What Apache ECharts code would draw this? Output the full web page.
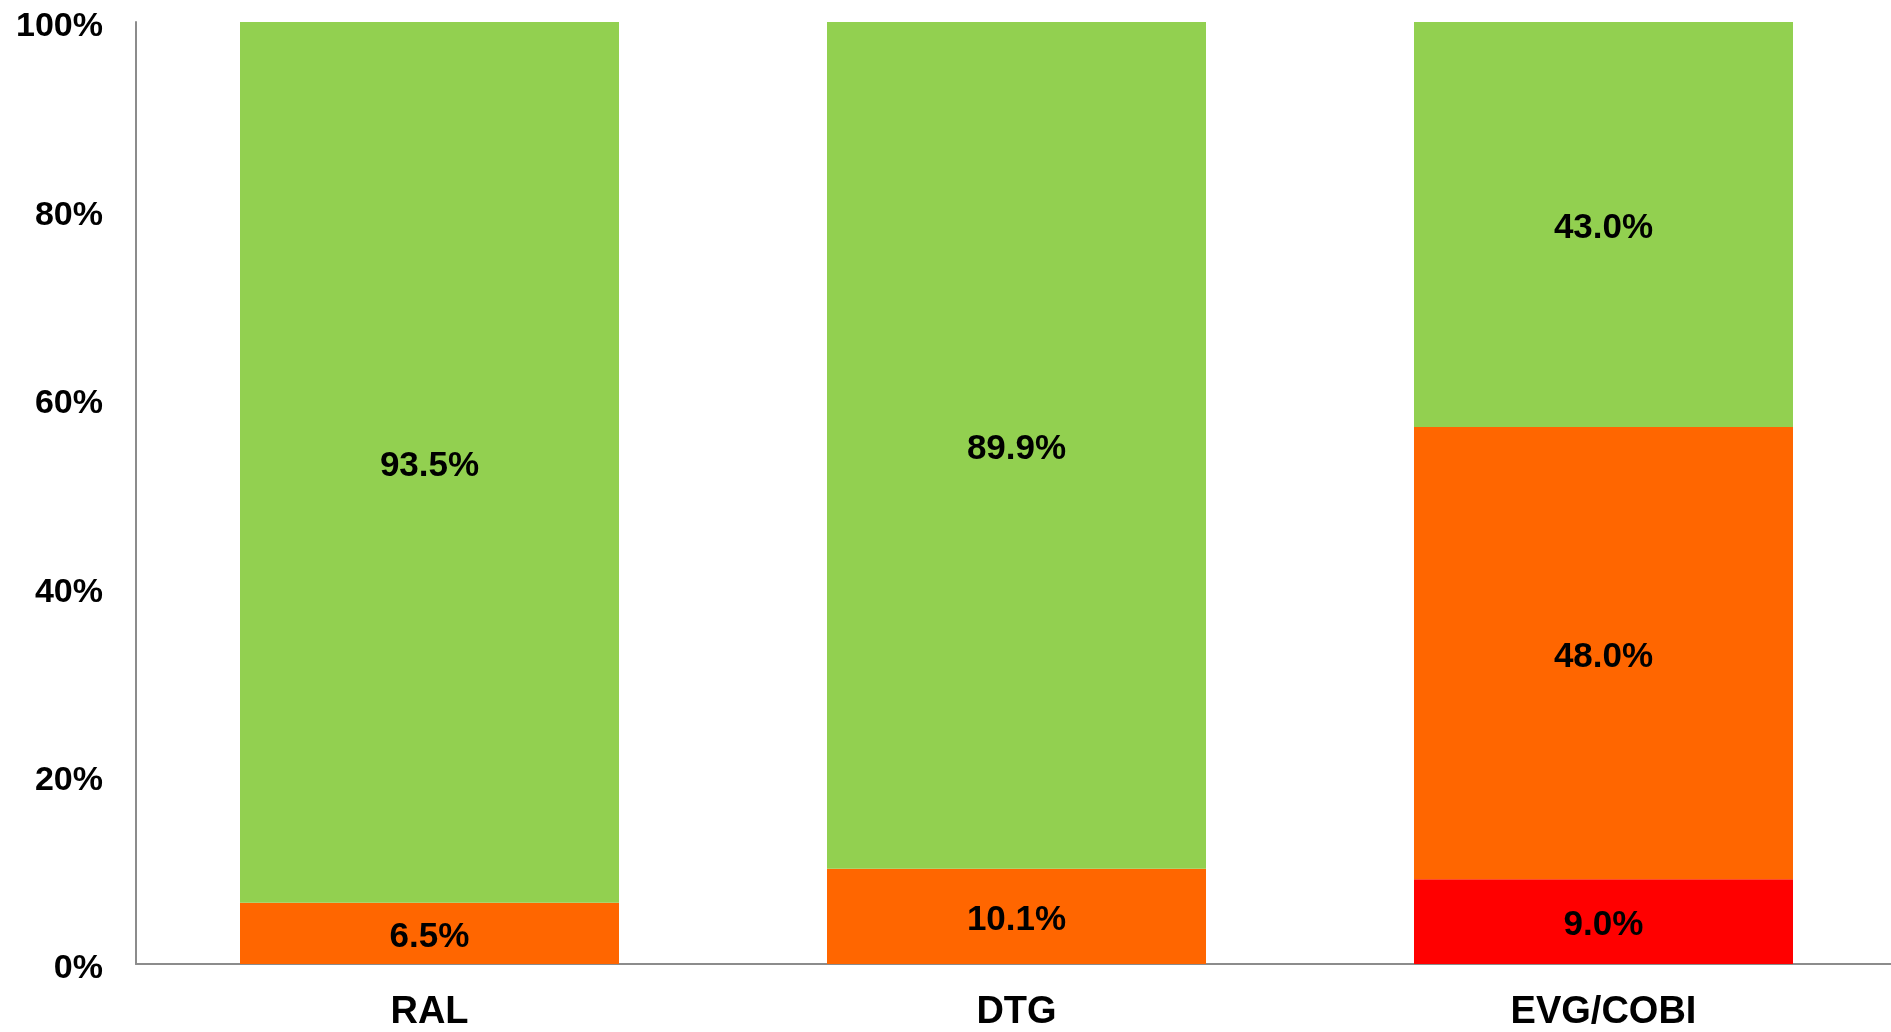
<!DOCTYPE html>
<html>
<head>
<meta charset="utf-8">
<title>Stacked percentage bars</title>
<script src="https://cdn.jsdelivr.net/npm/echarts@6/dist/echarts.min.js"></script>
<style>
  html, body { margin: 0; padding: 0; background: #ffffff; overflow: hidden; }
  #chart { width: 1891px; height: 1032px; }
</style>
</head>
<body>
<div id="chart"></div>
<script>
// Regimens on the x axis
const categories = ['RAL', 'DTG', 'EVG/COBI'];

// Stacked shares per regimen (percent), bottom to top
const redValues = [null, null, 9.0];
const orangeValues = [6.5, 10.1, 48.0];
const greenValues = [93.5, 89.9, 43.0];

// Y axis ticks
const yTicks = [0, 20, 40, 60, 80, 100];

const FONT = '"Liberation Sans", Arial, Helvetica, sans-serif';

const labelStyle = {
  show: true,
  position: 'inside',
  offset: [0, 4],
  color: '#000000',
  fontFamily: FONT,
  fontWeight: 'bold',
  fontSize: 35,
  formatter: p => (p.value == null ? '' : p.value.toFixed(1) + '%')
};

function stackSeries(name, data, color) {
  return {
    name: name,
    type: 'bar',
    stack: 'total',
    data: data,
    barWidth: 379,
    itemStyle: { color: color },
    label: labelStyle,
    emphasis: { disabled: true }
  };
}

const chart = echarts.init(document.getElementById('chart'), null, { renderer: 'canvas' });

chart.setOption({
  animation: false,
  backgroundColor: '#ffffff',
  // plot area runs a little past the right edge of the canvas
  grid: {
    left: 136, right: -6, top: 22, bottom: 68,
    containLabel: false,
    outerBoundsMode: 'none'
  },
  xAxis: {
    type: 'category',
    data: categories,
    axisLine: { show: true, lineStyle: { color: '#8c8c8c', width: 2 } },
    axisTick: { show: false },
    axisLabel: {
      color: '#000000',
      fontFamily: FONT,
      fontWeight: 'bold',
      fontSize: 38,
      margin: 30
    }
  },
  yAxis: {
    type: 'value',
    min: yTicks[0],
    max: yTicks[yTicks.length - 1],
    interval: yTicks[1] - yTicks[0],
    splitLine: { show: false },
    axisLine: { show: true, lineStyle: { color: '#8c8c8c', width: 2 } },
    axisTick: { show: false },
    axisLabel: {
      color: '#000000',
      fontFamily: FONT,
      fontWeight: 'bold',
      fontSize: 34,
      margin: 33,
      // tick labels sit slightly below their tick
      verticalAlign: 'top',
      lineHeight: 10,
      formatter: v => v + '%'
    }
  },
  series: [
    stackSeries('Red', redValues, '#ff0000'),
    stackSeries('Orange', orangeValues, '#ff6600'),
    stackSeries('Green', greenValues, '#92d050')
  ]
});
</script>
</body>
</html>
